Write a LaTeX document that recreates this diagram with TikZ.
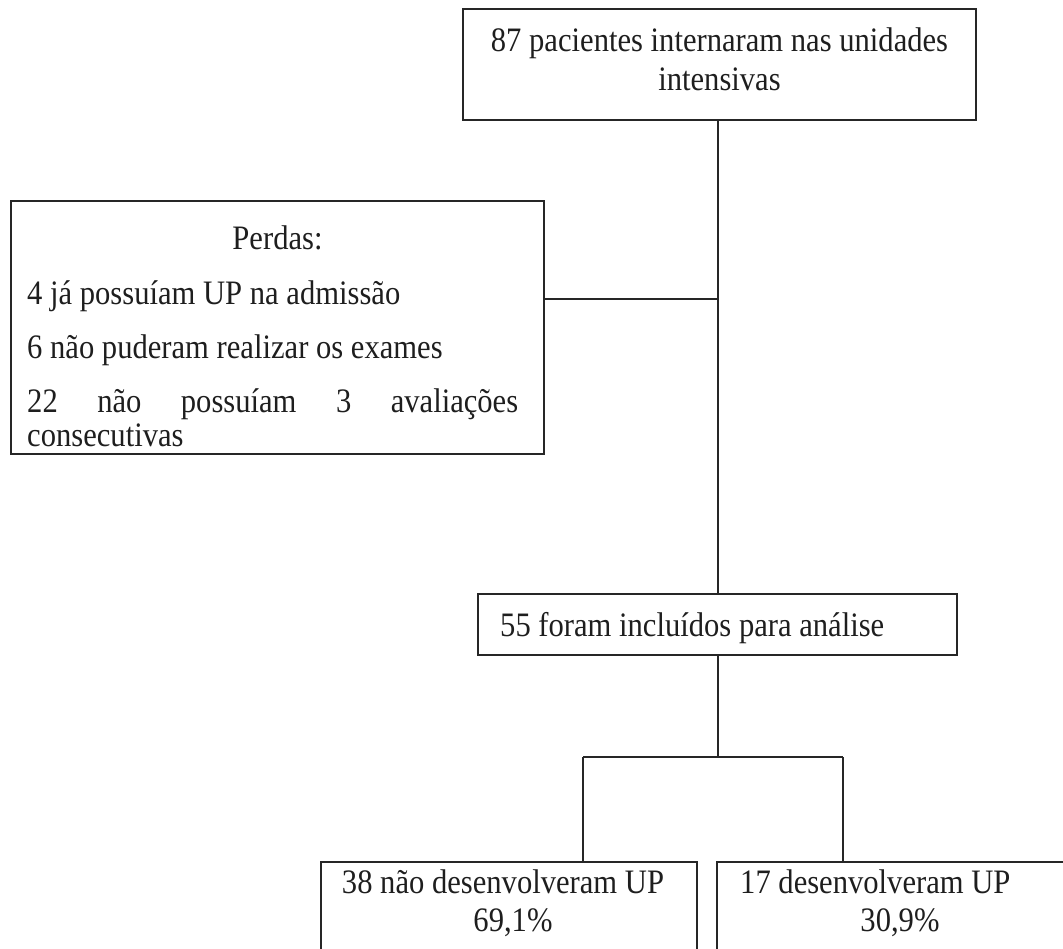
\documentclass[tikz,border=0pt]{standalone}
\usepackage{fontspec}
\setmainfont{Liberation Serif}
\definecolor{linec}{HTML}{262626}
\definecolor{textc}{HTML}{1E1E1E}
\newcommand{\vst}[1]{\scalebox{1}[1.12]{#1}}
\begin{document}
\begin{tikzpicture}[x=1pt,y=-1pt,
  box/.style={draw=linec, line width=2.8pt, rectangle, inner sep=0pt},
  txt/.style={font=\fontsize{30.6}{36}\selectfont, inner sep=0pt, text=textc},
  conn/.style={draw=linec, line width=2.8pt}]
\useasboundingbox (0,0) rectangle (1063,948);
\clip (0,0) rectangle (1063,948);
% boxes
\node[box, minimum width=513pt, minimum height=111pt] (top) at (719.5,64.5) {};
\node[box, minimum width=533pt, minimum height=253pt] (perdas) at (277.5,327.5) {};
\node[box, minimum width=479pt, minimum height=61pt] (incl) at (717.5,624.5) {};
\node[box, minimum width=376pt, minimum height=138pt] (nao) at (509,931) {};
\node[box, minimum width=368pt, minimum height=138pt] (sim) at (901,931) {};
% texts
\node[txt, anchor=base] (t1) at (719.5,51) {\vst{87 pacientes internaram nas unidades}};
\node[txt, anchor=base] (t2) at (719.5,90) {\vst{intensivas}};
\node[txt, anchor=base] (p0) at (277.5,249) {\vst{Perdas:}};
\node[txt, anchor=base west] (p1) at (27,304) {\vst{4 já possuíam UP na admissão}};
\node[txt, anchor=base west] (p2) at (27,358) {\vst{6 não puderam realizar os exames}};
\node[txt, anchor=base west] (p3) at (27,412) {\vst{\makebox[491pt][s]{22 não possuíam 3 avaliações}}};
\node[txt, anchor=base west] (p4) at (27,446) {\vst{consecutivas}};
\node[txt, anchor=base west] (i1) at (500,636) {\vst{55 foram incluídos para análise}};
\node[txt, anchor=base] (n1) at (503,893) {\vst{38 não desenvolveram UP}};
\node[txt, anchor=base] (n2) at (513,931) {\vst{69,1\%}};
\node[txt, anchor=base west] (s1) at (740,893) {\vst{17 desenvolveram UP}};
\node[txt, anchor=base] (s2) at (900,931) {\vst{30,9\%}};
% connectors
\coordinate (j1) at (718,299);
\coordinate (j2) at (718,757);
\coordinate (bl) at (583,757);
\coordinate (br) at (843,757);
\draw[conn] (top.south -| j1) -- (incl.north -| j1);
\draw[conn] (perdas.east |- j1) -- (j1);
\draw[conn] (incl.south -| j2) -- (j2);
\draw[conn] (bl) -- (br);
\draw[conn] (bl) -- (nao.north -| bl);
\draw[conn] (br) -- (sim.north -| br);
\end{tikzpicture}
\end{document}
